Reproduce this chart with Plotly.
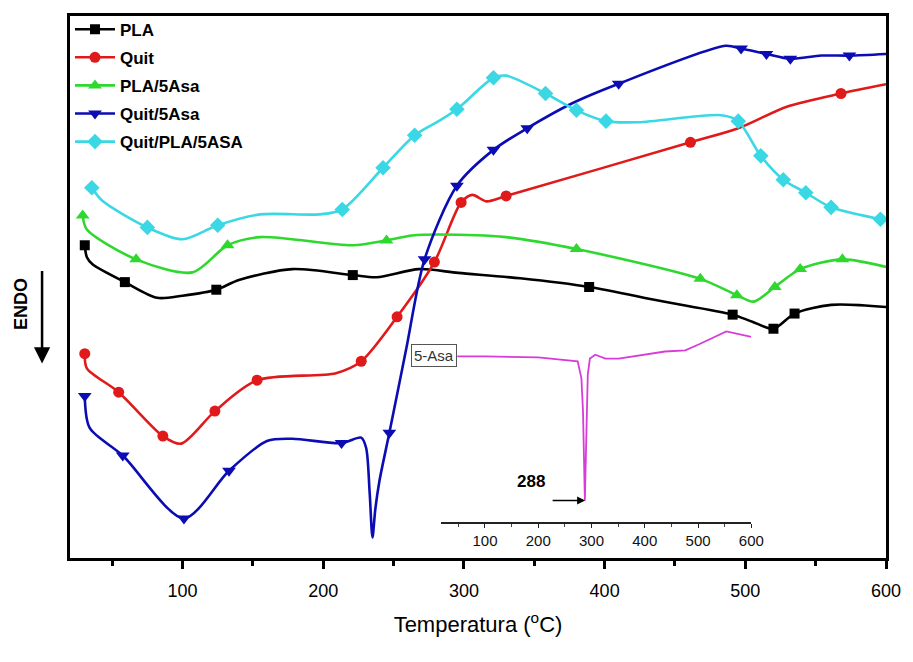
import plotly.graph_objects as go

# ---- data (arbitrary heat-flow units, ENDO down) ----
T_PLA = [30.5, 32, 36, 59, 82, 100, 124, 140, 178, 221, 238, 268, 296, 340, 389, 440, 491, 505, 520, 535, 561, 600]
Y_PLA = [57.7, 55.5, 54.2, 50.9, 48.0, 48.4, 49.5, 51.3, 53.3, 52.2, 51.8, 53.3, 52.6, 51.6, 50.0, 47.4, 44.9, 43.6, 42.3, 45.1, 46.7, 46.3]
M_PLA = [0, 3, 6, 9, 14, 16, 18, 19]

T_QUIT = [30.5, 32, 54.6, 86, 99, 123, 153, 209, 227, 252.5, 279, 298, 306, 316, 330, 461, 495, 530, 568, 600]
Y_QUIT = [37.7, 35.0, 30.6, 22.5, 21.1, 27.1, 32.8, 34.1, 36.3, 44.5, 54.6, 65.6, 67.0, 65.8, 66.8, 76.7, 79.3, 83.3, 85.7, 87.4]
M_QUIT = [0, 2, 3, 5, 6, 8, 9, 10, 11, 14, 15, 18]

T_PLA5 = [29, 32, 67, 107, 132, 155, 221, 245, 263, 282, 330, 380, 468, 494, 506, 521, 539, 569, 600]
Y_PLA5 = [63.2, 60.6, 55.1, 52.7, 57.7, 59.2, 57.7, 58.6, 59.5, 59.7, 59.2, 57.0, 51.5, 48.5, 47.3, 50.0, 53.3, 55.1, 53.7]
M_PLA5 = [0, 2, 4, 7, 11, 12, 13, 15, 16, 17]

T_QUIT5 = [30.5, 34, 57.5, 101, 133, 160, 178, 213, 227, 230.5, 233, 235, 237, 240, 247, 259, 272, 295, 321, 345, 377, 410, 486, 497, 515, 532, 554, 574, 600]
Y_QUIT5 = [29.9, 24.0, 18.9, 7.3, 16.1, 21.6, 22.0, 21.2, 22.2, 20.3, 12.0, 3.8, 9.0, 14.3, 23.1, 38.6, 55.1, 68.7, 75.3, 79.3, 83.9, 87.5, 94.5, 94.0, 93.0, 92.1, 92.7, 92.7, 93.0]
M_QUIT5 = [0, 2, 3, 4, 7, 14, 16, 17, 18, 19, 21, 23, 24, 25, 27]

T_QPA = [35.5, 43, 75, 100, 125, 155, 197, 213.5, 242.5, 265, 282, 295, 321, 330, 358, 380, 401, 424, 483, 495, 511, 527, 543, 561, 596, 600]
Y_QPA = [68.3, 65.9, 61.0, 58.8, 61.4, 63.4, 63.4, 64.3, 72.0, 78.0, 80.6, 82.8, 88.6, 89.0, 85.7, 82.6, 80.6, 80.4, 81.7, 80.6, 74.2, 69.8, 67.4, 64.7, 62.5, 62.3]
M_QPA = [0, 2, 4, 7, 8, 9, 11, 12, 14, 15, 16, 19, 20, 21, 22, 23, 24]

# inset: pure 5-ASA
T_ASA = [48, 100, 200, 252, 274, 281, 284, 287.5, 290.5, 293, 297, 307, 326, 351, 438, 476, 501, 553, 600]
Y_ASA = [37.2, 37.2, 37.0, 36.6, 36.3, 33.2, 27.1, 10.6, 23.4, 33.9, 36.8, 37.5, 36.8, 36.8, 38.1, 38.3, 39.4, 41.8, 40.8]
PEAK_ASA = 288
MAIN_TICKS = [100, 200, 300, 400, 500, 600]
INSET_TICKS = [100, 200, 300, 400, 500, 600]

series = [
    ("PLA", T_PLA, Y_PLA, M_PLA, "#000000", "square", 10),
    ("Quit", T_QUIT, Y_QUIT, M_QUIT, "#e01a1a", "circle", 11),
    ("PLA/5Asa", T_PLA5, Y_PLA5, M_PLA5, "#2ed82e", "triangle-up", 12),
    ("Quit/5Asa", T_QUIT5, Y_QUIT5, M_QUIT5, "#0c0cb4", "triangle-down", 12),
    ("Quit/PLA/5ASA", T_QPA, Y_QPA, M_QPA, "#3ad8e4", "diamond", 12),
]

fig = go.Figure()
for name, tx, ty, mi, col, sym, ms in series:
    fig.add_trace(go.Scatter(x=tx, y=ty, mode="lines", line=dict(color=col, width=2.6, shape="spline", smoothing=0.8),
                             showlegend=False, legendgroup=name, hoverinfo="skip"))
    fig.add_trace(go.Scatter(x=[tx[i] for i in mi], y=[ty[i] for i in mi], mode="markers",
                             marker=dict(color=col, symbol=sym, size=ms), showlegend=False, legendgroup=name))
    fig.add_trace(go.Scatter(x=[None], y=[None], mode="lines+markers", name=name, legendgroup=name,
                             line=dict(color=col, width=2.6), marker=dict(color=col, symbol=sym, size=ms)))

fig.add_trace(go.Scatter(x=T_ASA, y=Y_ASA, xaxis="x2", yaxis="y", mode="lines",
                         line=dict(color="#d83cd8", width=1.8), showlegend=False))

L, R, T, B = 70, 25, 12, 104
W, H = 913, 662
pw, ph = W - L - R, H - T - B

def px(xp):
    return (xp - L) / pw

def py(yp):
    return (H - B - yp) / ph

fig.update_layout(
    width=W, height=H, margin=dict(l=L, r=R, t=T, b=B),
    paper_bgcolor="white", plot_bgcolor="rgba(0,0,0,0)",
    showlegend=True,
    legend=dict(x=0.0, y=1.008, xanchor="left", yanchor="top", bgcolor="rgba(0,0,0,0)",
                font=dict(family="Liberation Sans, Arial", size=17, color="black", weight="bold"),
                itemwidth=40, tracegroupgap=3),
    xaxis=dict(range=[20, 600], showgrid=False, zeroline=False, showline=True, linewidth=3, linecolor="black",
               mirror=True, ticks="outside", ticklen=8, tickwidth=2.5, tickcolor="black",
               tickvals=MAIN_TICKS, ticklabelstandoff=6,
               tickfont=dict(family="Liberation Sans Narrow, Arial Narrow, Liberation Sans", size=18, color="black"),
               minor=dict(dtick=50, tick0=0, ticks="outside", ticklen=5, tickwidth=2.5, tickcolor="black"),
               title=dict(text="Temperatura (<sup>o</sup>C)", standoff=18,
                          font=dict(family="Liberation Sans Narrow, Arial Narrow, Liberation Sans", size=22, color="black"))),
    yaxis=dict(range=[0, 100], showgrid=False, zeroline=False, showline=True, linewidth=3, linecolor="black",
               mirror=True, ticks="", showticklabels=False),
    xaxis2=dict(domain=[px(442), px(753)], anchor="free", position=py(523), range=[17.6, 600],
                showgrid=False, zeroline=False, showline=True, linewidth=1.5, linecolor="#222",
                ticks="outside", ticklen=4, tickwidth=1, tickcolor="#222", tickvals=INSET_TICKS,
                tickfont=dict(family="Liberation Sans, Arial", size=15, color="#111"),
                minor=dict(dtick=50, tick0=0, ticks="outside", ticklen=3, tickwidth=1, tickcolor="#444")),
    annotations=[
        dict(text="5-Asa", xref="paper", yref="paper", x=px(435), y=py(354), showarrow=False,
             font=dict(family="Liberation Sans, Arial", size=15, color="#333"),
             bordercolor="#555", borderwidth=1, borderpad=2, bgcolor="white"),
        dict(text="<b>288</b>", xref="paper", yref="paper", x=px(532), y=py(493), showarrow=False,
             font=dict(family="Liberation Sans, Arial", size=17, color="black")),
        dict(text="", xref="x2", yref="y", x=PEAK_ASA, y=Y_ASA[7], ax=-34, ay=0, showarrow=True,
             arrowhead=2, arrowsize=1, arrowwidth=1.6, arrowcolor="black", standoff=0),
        dict(text="<b>ENDO</b>", xref="paper", yref="paper", x=px(21), y=py(302), showarrow=False,
             xanchor="center", yanchor="middle",
             textangle=-90, font=dict(family="Liberation Sans, Arial", size=18, color="black")),
        dict(text="", xref="paper", yref="paper", x=px(42), y=py(362), ax=0, ay=-94, showarrow=True,
             arrowhead=2, arrowsize=1.3, arrowwidth=2.5, arrowcolor="black", standoff=0),
    ],
)

fig.write_html("out.html")
